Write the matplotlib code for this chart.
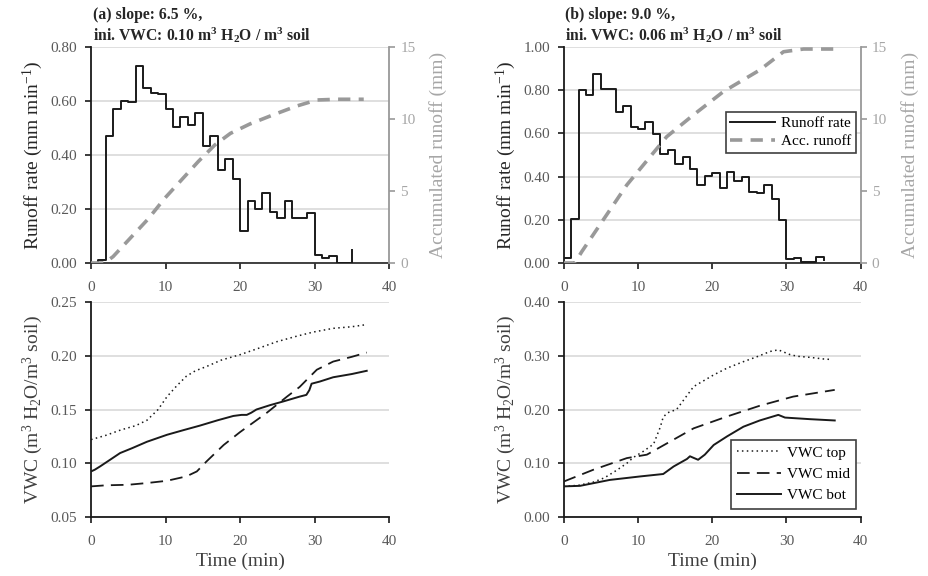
import numpy as np
import matplotlib
matplotlib.use("Agg")
import matplotlib.pyplot as plt
from matplotlib.lines import Line2D

plt.rcParams['font.family'] = ['Liberation Serif', 'DejaVu Serif']
plt.rcParams['mathtext.default'] = 'regular'

# ---- runoff rate, 1-min bins (mm/min) ----
t_rate_a = list(range(36))
rate_a = [0.0, 0.01, 0.47, 0.57, 0.60, 0.595, 0.73, 0.65, 0.63, 0.625,
          0.57, 0.505, 0.54, 0.51, 0.555, 0.435, 0.47, 0.345, 0.385, 0.31,
          0.12, 0.23, 0.20, 0.26, 0.19, 0.165, 0.23, 0.165, 0.165, 0.185,
          0.03, 0.02, 0.025, 0.0, 0.0, 0.05]
t_rate_b = list(range(36))
rate_b = [0.025, 0.205, 0.80, 0.78, 0.875, 0.805, 0.805, 0.70, 0.725, 0.63,
          0.62, 0.655, 0.595, 0.505, 0.525, 0.46, 0.49, 0.435, 0.36, 0.405,
          0.415, 0.345, 0.42, 0.38, 0.40, 0.33, 0.325, 0.36, 0.295, 0.20,
          0.02, 0.025, 0.003, 0.003, 0.03, 0.015]

# ---- accumulated runoff (mm) ----
t_acc_a = [0, 1.8, 2.95, 7.65, 9.9, 14.4, 16.6, 18.7, 21.3, 24.5, 27.6, 30.3, 33, 36.6]
acc_a = [0, 0, 0.44, 3.05, 4.5, 7.05, 8.19, 9.0, 9.65, 10.3, 10.9, 11.32, 11.37, 11.37]
t_acc_b = [0, 1.5, 2.42, 8.5, 13.87, 17.46, 21.5, 26.4, 29.6, 32.3, 36.3]
acc_b = [0, 0, 0.78, 5.42, 8.77, 10.28, 11.9, 13.4, 14.67, 14.86, 14.86]

# ---- VWC (m3/m3) ----
t_top_a = [0, 2, 4, 6, 7.5, 9, 10.2, 11.5, 12.8, 14, 15.5, 17.5, 20, 22.5, 24.9, 27.5, 29.8, 32.5, 35, 37]
top_a = [0.122, 0.126, 0.131, 0.135, 0.140, 0.150, 0.162, 0.172, 0.181, 0.186,
         0.190, 0.196, 0.201, 0.207, 0.213, 0.218, 0.222, 0.2255, 0.227, 0.229]
t_mid_a = [0, 2, 5, 7.5, 10.2, 12.8, 14.2, 15.5, 17.8, 20, 23.6, 26.3, 28, 29, 30.3, 32.5, 35, 37]
mid_a = [0.0785, 0.0795, 0.080, 0.0816, 0.0837, 0.0878, 0.0924, 0.1017, 0.117,
         0.129, 0.147, 0.162, 0.171, 0.178, 0.187, 0.1946, 0.199, 0.203]
t_bot_a = [0, 0.5, 1.2, 2.5, 3.9, 5.5, 7.5, 10.2, 12.5, 14.6, 17, 19.1, 20.2, 20.9,
           21.5, 22.2, 24, 25.8, 28, 28.9, 29.3, 29.6, 30.7, 32.5, 35, 37]
bot_a = [0.0924, 0.094, 0.097, 0.103, 0.1095, 0.114, 0.120, 0.1265, 0.131, 0.135,
         0.140, 0.144, 0.145, 0.145, 0.147, 0.150, 0.154, 0.1575, 0.162, 0.1636,
         0.168, 0.174, 0.176, 0.180, 0.183, 0.186]

t_top_b = [0, 2, 4, 5.5, 7.1, 8.5, 9.4, 10.7, 12.1, 13, 13.4, 14, 15.2, 17.5, 20.2,
           22, 24.2, 26, 27.8, 28.9, 30.5, 31.5, 33.2, 35, 36.1]
top_b = [0.057, 0.059, 0.065, 0.073, 0.0867, 0.100, 0.111, 0.122, 0.1356, 0.167,
         0.186, 0.194, 0.200, 0.2427, 0.2644, 0.277, 0.289, 0.298, 0.308, 0.311,
         0.302, 0.299, 0.297, 0.294, 0.293]
t_mid_b = [0, 4, 8.5, 11.2, 13.9, 17.5, 22, 26.4, 30.9, 36.5]
mid_b = [0.066, 0.088, 0.1096, 0.116, 0.137, 0.165, 0.187, 0.207, 0.224, 0.2365]
t_bot_b = [0, 2.2, 6.2, 10.3, 13.4, 14.2, 14.8, 16.6, 17, 17.5, 18.1, 19, 20.2, 22,
           24.2, 26.4, 28.9, 29.8, 33.2, 36.5]
bot_b = [0.057, 0.058, 0.069, 0.0755, 0.080, 0.088, 0.094, 0.108, 0.113, 0.110,
         0.1065, 0.116, 0.134, 0.15, 0.168, 0.1796, 0.19, 0.185, 0.182, 0.1796]

titles = ["(a) slope: 6.5 %,\nini. VWC: 0.10 m$^3$ H$_2$O / m$^3$ soil",
          "(b) slope: 9.0 %,\nini. VWC: 0.06 m$^3$ H$_2$O / m$^3$ soil"]

TICK_C = '#595959'
GREY = '#a6a6a6'
GRID_C = '#d9d9d9'
ACC_C = '#999999'
LBL = 14

fig = plt.figure(figsize=(9.29, 5.76), dpi=100)
ax_a = fig.add_axes([0.098, 0.5434, 0.3208, 0.375])
ax_b = fig.add_axes([0.6068, 0.5434, 0.3197, 0.375])
ax_c = fig.add_axes([0.098, 0.1024, 0.3208, 0.3733])
ax_d = fig.add_axes([0.6068, 0.1024, 0.3197, 0.3733])


def style_axis(ax):
    ax.set_xlim(0, 40)
    ax.set_xticks([0, 10, 20, 30, 40])
    ax.spines['top'].set_visible(False)
    ax.spines['right'].set_visible(False)
    ax.spines['left'].set_color('#1a1a1a')
    ax.spines['bottom'].set_color('#333333')
    ax.spines['left'].set_linewidth(1.3)
    ax.spines['bottom'].set_linewidth(1.3)
    ax.tick_params(axis='both', labelsize=11, labelcolor=TICK_C, direction='out',
                   length=4, width=1.2, color='#1a1a1a')
    ax.tick_params(axis='x', pad=9)
    ax.tick_params(axis='y', pad=6)
    ax.yaxis.grid(True, color=GRID_C, lw=1.2)
    ax.set_axisbelow(True)


def frame_legend(leg):
    leg.get_frame().set_linewidth(1.2)


for ax, t, r, ta, acc, ymax, title in [
        (ax_a, t_rate_a, rate_a, t_acc_a, acc_a, 0.80, titles[0]),
        (ax_b, t_rate_b, rate_b, t_acc_b, acc_b, 1.00, titles[1])]:
    style_axis(ax)
    ax.set_ylim(0, ymax)
    ax.set_yticks(np.arange(0, ymax + 0.01, 0.2))
    ax.yaxis.set_major_formatter(plt.FormatStrFormatter('%.2f'))
    ax.step(t, r, where='post', color='#1a1a1a', lw=1.4, zorder=3)
    ax.set_ylabel('Runoff rate (mm min$^{-1}$)', fontsize=LBL, color='#262626', labelpad=4)
    ax.text(0.005, 1.008, title, transform=ax.transAxes, ha='left', va='bottom',
            fontsize=11.3, fontweight='bold', color='#262626', linespacing=1.15)

    ax2 = ax.twinx()
    ax2.set_ylim(0, 15)
    ax2.set_yticks([0, 5, 10, 15])
    ax2.plot(ta, acc, color=ACC_C, lw=2.6, ls=(0, (3.4, 2.3)), zorder=2)
    for s in ['top', 'left', 'bottom']:
        ax2.spines[s].set_visible(False)
    ax2.spines['right'].set_color(ACC_C)
    ax2.spines['right'].set_linewidth(1.3)
    ax2.tick_params(axis='y', labelsize=11, labelcolor=GREY, color=ACC_C,
                    length=4, width=1.2, pad=4)
    ax2.set_ylabel('Accumulated runoff (mm)', fontsize=LBL, color=GREY, labelpad=10)
    if ax is ax_b:
        handles = [Line2D([], [], color='#1a1a1a', lw=1.4),
                   Line2D([], [], color=ACC_C, lw=2.6, ls=(0, (3.4, 2.3)))]
        leg = ax2.legend(handles, ['Runoff rate', 'Acc. runoff'], loc='upper right',
                         bbox_to_anchor=(0.993, 0.715), fontsize=11, frameon=True,
                         fancybox=False, framealpha=1, edgecolor='#404040',
                         borderpad=0.3, handlelength=2.9, labelspacing=0.3,
                         borderaxespad=0.2, handletextpad=0.4)
        frame_legend(leg)

for ax, tt, top, tm, mid, tb, bot, ylo, yhi, step in [
        (ax_c, t_top_a, top_a, t_mid_a, mid_a, t_bot_a, bot_a, 0.05, 0.25, 0.05),
        (ax_d, t_top_b, top_b, t_mid_b, mid_b, t_bot_b, bot_b, 0.0, 0.40, 0.10)]:
    style_axis(ax)
    ax.spines['bottom'].set_color('#1a1a1a')
    ax.set_ylim(ylo, yhi)
    ax.set_yticks(np.arange(ylo, yhi + 1e-6, step))
    ax.yaxis.set_major_formatter(plt.FormatStrFormatter('%.2f'))
    ax.plot(tt, top, color='#1a1a1a', lw=1.1, ls=(0, (1, 2.2)), label='VWC top')
    ax.plot(tm, mid, color='#1a1a1a', lw=1.3, ls=(0, (7, 4)), label='VWC mid')
    ax.plot(tb, bot, color='#1a1a1a', lw=1.4, label='VWC bot')
    ax.set_ylabel('VWC (m$^3$ H$_2$O/m$^3$ soil)', fontsize=LBL, color='#404040', labelpad=4)
    ax.set_xlabel('Time (min)', fontsize=LBL, color='#404040', labelpad=3)

leg = ax_d.legend(loc='lower right', bbox_to_anchor=(0.995, 0.025), fontsize=11,
                  frameon=True, fancybox=False, framealpha=1, edgecolor='#404040',
                  borderpad=0.4, handlelength=2.9, labelspacing=0.5,
                  borderaxespad=0.2, handletextpad=0.4)
frame_legend(leg)

fig.savefig('out.png', dpi=100)
